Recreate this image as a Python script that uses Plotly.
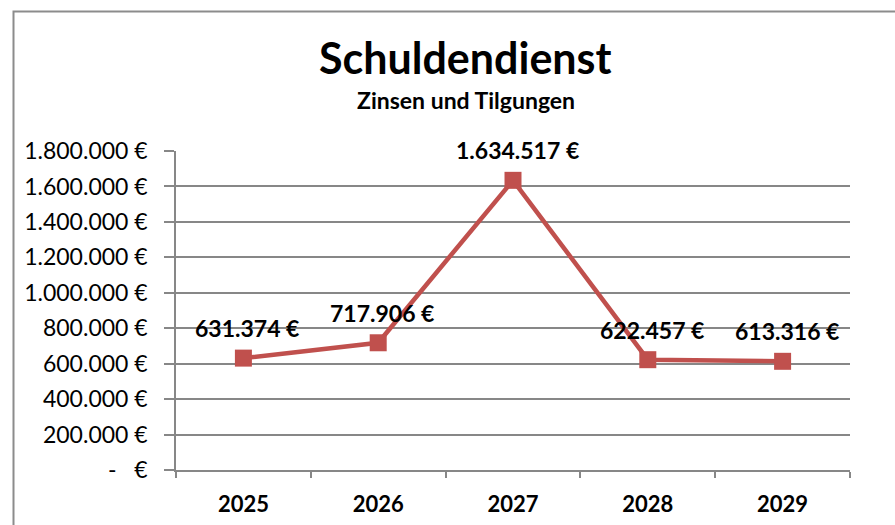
import plotly.graph_objects as go

years = ["2025", "2026", "2027", "2028", "2029"]
values = [631374, 717906, 1634517, 622457, 613316]
y_ticks = [0, 200000, 400000, 600000, 800000, 1000000, 1200000, 1400000, 1600000, 1800000]

def fmt(v):
    if v == 0:
        return "-   €"
    return f"{v:,}".replace(",", ".") + " €"

labels = [fmt(v) for v in values]
FONT = "Lato, 'Open Sans', sans-serif"
GRID = "#878787"

W, H = 895, 525
PL, PR, PT, PB = 176, 850, 151, 470
PW, PH = PR - PL, PB - PT

def px(x):
    return (x - PL) / PW

def py(y):
    return (PB - y) / PH

fig = go.Figure()
fig.add_trace(go.Scatter(
    x=years, y=values, mode="lines+markers",
    line=dict(color="#C0504D", width=4.5),
    marker=dict(symbol="square", size=17, color="#C0504D"),
    cliponaxis=False, showlegend=False,
))

# data labels: category index positions on the category x axis
data_labels = [
    dict(text=f"<b>{t}</b>", x=i, y=yv, xref="x", yref="y", showarrow=False,
         xanchor="center", yanchor="middle", xshift=4, yshift=30,
         font=dict(family=FONT, size=23, color="black"))
    for i, (yv, t) in enumerate(zip(values, labels))
]

fig.update_layout(
    width=W, height=H,
    margin=dict(l=PL, r=W - PR, t=PT, b=H - PB, autoexpand=False),
    paper_bgcolor="white", plot_bgcolor="white",
    font=dict(family=FONT, color="black"),
    xaxis=dict(
        type="category", showgrid=False, showline=True, linecolor=GRID, linewidth=1.5,
        ticks="outside", tickson="boundaries", ticklen=6, tickcolor=GRID, tickwidth=1.5,
        tickfont=dict(family=FONT, size=22, color="black", weight="bold"),
        ticklabelstandoff=14, automargin=False,
        range=[-0.5, 4.5], fixedrange=True,
    ),
    yaxis=dict(
        range=[0, 1800000], tickvals=y_ticks, ticktext=[fmt(v) for v in y_ticks],
        showgrid=True, gridcolor=GRID, gridwidth=1.5, zeroline=False,
        showline=True, linecolor=GRID, linewidth=1.5,
        ticks="outside", ticklen=10, tickcolor=GRID, tickwidth=1.5,
        tickfont=dict(family=FONT, size=23, color="black"),
        ticklabelstandoff=12, automargin=False,
        fixedrange=True,
    ),
    annotations=[
        dict(text="<b>Schuldendienst</b>", x=px(465), y=py(58), xref="paper", yref="paper",
             xanchor="center", yanchor="middle", showarrow=False,
             font=dict(family=FONT, size=43, color="black")),
        dict(text="<b>Zinsen und Tilgungen</b>", x=px(466), y=py(100), xref="paper", yref="paper",
             xanchor="center", yanchor="middle", showarrow=False,
             font=dict(family=FONT, size=23, color="black")),
    ] + data_labels,
    shapes=[
        dict(type="rect", xref="paper", yref="paper",
             x0=px(13.5), x1=1.3, y0=-0.4, y1=py(11.5),
             line=dict(color="#8c8c8c", width=2), layer="below"),
    ],
)

fig.write_html(
    "out.html",
    config={"displayModeBar": False},
    post_script="document.body.style.margin='0';document.body.style.overflow='hidden';",
)
